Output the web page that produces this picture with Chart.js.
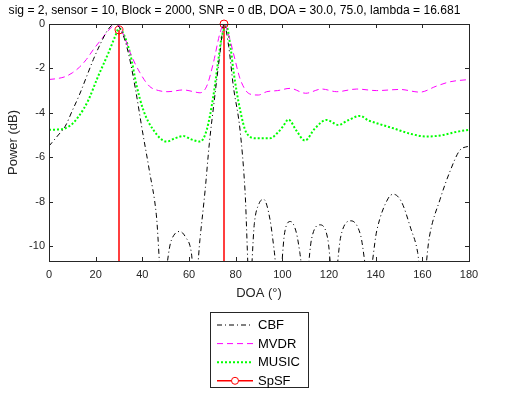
<!DOCTYPE html>
<html>
<head>
<meta charset="UTF-8">
<title>DOA spectrum</title>
<script src="https://cdn.jsdelivr.net/npm/chart.js@4.4.1/dist/chart.umd.min.js"></script>
<style>
  html, body { margin: 0; padding: 0; background: #fff; }
  #wrap { width: 512px; height: 396px; }
</style>
</head>
<body>
<div id="wrap"><canvas id="chart" width="512" height="396"></canvas></div>
<script>
// 目盛り
const xTicks = [0, 20, 40, 60, 80, 100, 120, 140, 160, 180];
const yTicks = [-10, -8, -6, -4, -2, 0];

// CBF
const cbfDeg = [0, 4, 7, 10, 13, 16, 19, 22, 25, 28, 31, 34, 37, 40, 43, 46, 48.5,
  52, 54, 56, 58.5, 61, 62.6, 64.7, 66.9, 68.7, 71, 73.3, 75, 77, 79, 81.9, 84, 86,
  88, 90, 92, 94.7, 96.5, 98.5, 101, 103.5, 106, 107.5, 109.7, 112.5, 116, 119.5, 122,
  125, 129.5, 133.5, 137, 140.5, 145.4, 147.6, 151, 155, 158, 160, 163, 167.6, 172, 176, 180];
const cbfPow = [-5.5, -5.0, -4.6, -3.9, -3.2, -2.4, -1.6, -0.9, -0.3, 0, -0.3, -1.3, -2.9, -4.8, -6.6, -8.6, -12,
  -9.9, -9.45, -9.35, -9.6, -10.3, -12, -9.7, -7.5, -5.4, -3.3, -1.3, 0, -1.0, -2.8, -4.8, -7.5, -12,
  -9.0, -8.1, -7.9, -8.8, -10.2, -12, -9.4, -8.9, -9.4, -10.3, -12, -9.7, -9.05, -9.7, -12,
  -9.6, -8.87, -9.5, -11.5, -9.3, -7.85, -7.67, -8.0, -9.2, -10.3, -12, -9.6, -7.9, -6.6, -5.7, -5.5];

// MVDR
const mvdrDeg = [0, 4, 7, 10, 13, 16, 19, 22, 25, 27.5, 29, 32, 35, 39, 43, 47, 51, 57.6, 62, 64.7,
  67.6, 70.4, 73.3, 75, 77, 79, 82, 86, 89.7, 93.3, 98, 103.3, 110, 116.9, 123.3, 131.9,
  140.4, 150.4, 159, 166, 172, 180];
const mvdrPow = [-2.5, -2.45, -2.37, -2.2, -1.95, -1.6, -1.15, -0.75, -0.35, -0.08, 0, -0.5, -1.35, -2.2, -2.8, -3.0, -3.05, -2.97, -3.05, -3.1,
  -2.8, -1.77, -0.4, 0, -0.5, -1.3, -2.5, -3.15, -3.2, -3.05, -3.0, -2.9, -3.12, -2.93, -3.05, -2.93,
  -3.0, -2.95, -3.07, -2.8, -2.6, -2.5];

// MUSIC
const musicDeg = [0, 4, 7, 10, 12.6, 15, 17, 21, 25.4, 28.3, 30, 31.5, 34.7, 37.6, 40.4, 44.7, 50.4,
  54, 57.6, 61, 64.7, 67.6, 70.4, 72.6, 74, 76, 78, 79, 81.9, 84.7, 89, 94.7, 98, 100.4, 102.6,
  106, 109.7, 114, 119, 124, 128, 133.3, 137, 140.4, 147.6, 155, 161.9, 169, 175, 180];
const musicPow = [-4.77, -4.75, -4.7, -4.5, -4.18, -3.8, -3.4, -2.37, -1.32, -0.57, -0.2, -0.35, -1.3, -2.8, -3.87, -4.77, -5.3,
  -5.15, -5.05, -5.2, -5.3, -4.77, -3.27, -1.6, -0.6, -0.1, -1.2, -2.07, -3.87, -4.92, -5.15, -5.15, -4.9, -4.6, -4.3,
  -4.8, -5.25, -4.7, -4.32, -4.55, -4.35, -4.14, -4.35, -4.47, -4.7, -4.95, -5.07, -5.0, -4.85, -4.77];

// SpSF（ステム）
const spsfDeg = [30, 75];
const spsfPow = [-0.27, 0];

const yMin = -10.68;
const yMax = 0;
const FONT = "'Liberation Sans', Arial, sans-serif";

function toPoints(xs, ys) {
  return xs.map((x, i) => ({ x: x, y: ys[i] }));
}

// ステムは下端から値まで縦線
function stemPoints(xs, ys) {
  const pts = [];
  xs.forEach((x, i) => {
    pts.push({ x: x, y: yMin - 1 });
    pts.push({ x: x, y: ys[i] });
    pts.push({ x: x, y: null });
  });
  return pts;
}

// 枠と内向きの目盛り
const boxPlugin = {
  id: "box",
  afterDatasetsDraw(chart) {
    const { ctx, chartArea: a, scales } = chart;
    ctx.save();
    ctx.strokeStyle = "#262626";
    ctx.lineWidth = 1;
    ctx.beginPath();
    xTicks.forEach((v) => {
      const px = Math.round(scales.x.getPixelForValue(v)) + 0.5;
      ctx.moveTo(px, a.bottom);
      ctx.lineTo(px, a.bottom - 4);
      ctx.moveTo(px, a.top);
      ctx.lineTo(px, a.top + 4);
    });
    yTicks.forEach((v) => {
      const py = Math.round(scales.y.getPixelForValue(v)) + 0.5;
      ctx.moveTo(a.left, py);
      ctx.lineTo(a.left + 4, py);
      ctx.moveTo(a.right, py);
      ctx.lineTo(a.right - 4, py);
    });
    ctx.stroke();
    ctx.strokeRect(Math.round(a.left) + 0.5, Math.round(a.top) + 0.5,
      Math.round(a.right - a.left), Math.round(a.bottom - a.top));
    ctx.restore();
  },
};

// 凡例（MATLAB風の枠付き）
const legendPlugin = {
  id: "matlabLegend",
  afterDraw(chart) {
    const ctx = chart.ctx;
    const bx = 210.5, by = 312.5, bw = 98, bh = 75;
    ctx.save();
    ctx.fillStyle = "#fff";
    ctx.fillRect(bx, by, bw, bh);
    ctx.strokeStyle = "#262626";
    ctx.lineWidth = 1;
    ctx.strokeRect(bx, by, bw, bh);
    ctx.font = "13px " + FONT;
    ctx.textBaseline = "middle";
    chart.data.datasets.forEach((ds, i) => {
      const y = 325 + i * 18.6;
      ctx.save();
      ctx.strokeStyle = ds.borderColor;
      ctx.lineWidth = ds.borderWidth;
      ctx.setLineDash(ds.borderDash || []);
      ctx.beginPath();
      ctx.moveTo(217, y);
      ctx.lineTo(253, y);
      ctx.stroke();
      if (ds.label === "SpSF") {
        ctx.setLineDash([]);
        ctx.lineWidth = 1;
        ctx.beginPath();
        ctx.arc(235, y, 3.5, 0, Math.PI * 2);
        ctx.fillStyle = "#fff";
        ctx.fill();
        ctx.stroke();
      }
      ctx.restore();
      ctx.fillStyle = "#000";
      ctx.fillText(ds.label, 258, y + 0.5);
    });
    ctx.restore();
  },
};

const ctx = document.getElementById("chart").getContext("2d");
new Chart(ctx, {
  type: "line",
  data: {
    datasets: [
      {
        label: "CBF",
        data: toPoints(cbfDeg, cbfPow),
        borderColor: "#000000",
        borderWidth: 1,
        borderDash: [5, 3, 1, 3],
        pointRadius: 0,
        cubicInterpolationMode: "monotone",
        clip: 0,
      },
      {
        label: "MVDR",
        data: toPoints(mvdrDeg, mvdrPow),
        borderColor: "#ff00ff",
        borderWidth: 1,
        borderDash: [6, 4],
        pointRadius: 0,
        cubicInterpolationMode: "monotone",
        clip: 0,
      },
      {
        label: "MUSIC",
        data: toPoints(musicDeg, musicPow),
        borderColor: "#00ff00",
        borderWidth: 2,
        borderDash: [2, 2],
        pointRadius: 0,
        cubicInterpolationMode: "monotone",
        clip: 0,
      },
      {
        label: "SpSF",
        data: stemPoints(spsfDeg, spsfPow),
        borderColor: "#ff0000",
        borderWidth: 1.5,
        tension: 0,
        pointRadius: (c) => (c.dataIndex % 3 === 1 ? 4 : 0),
        pointBorderWidth: 1,
        pointBorderColor: "#ff0000",
        pointBackgroundColor: "rgba(0,0,0,0)",
        spanGaps: false,
        clip: { left: 0, right: 0, top: 10, bottom: 0 },
      },
    ],
  },
  options: {
    responsive: false,
    animation: false,
    layout: { padding: { left: 0, right: 43, top: 0, bottom: 90 } },
    plugins: {
      legend: { display: false },
      tooltip: { enabled: false },
      title: {
        display: true,
        text: "sig = 2, sensor = 10, Block = 2000, SNR = 0 dB, DOA = 30.0, 75.0, lambda = 16.681",
        color: "#000",
        font: { family: FONT, size: 12.1, weight: "normal" },
        padding: { top: 3, bottom: 6.5 },
      },
    },
    scales: {
      x: {
        type: "linear",
        min: 0,
        max: 180,
        afterBuildTicks: (s) => { s.ticks = xTicks.map((v) => ({ value: v })); },
        afterFit: (s) => { s.height = 45; },
        grid: { display: false, drawTicks: false },
        border: { display: false },
        ticks: {
          color: "#262626",
          padding: 7,
          maxRotation: 0,
          font: { family: FONT, size: 11 },
        },
        title: {
          display: true,
          text: "DOA (°)",
          color: "#262626",
          font: { family: FONT, size: 13 },
          padding: { top: 0, bottom: 5 },
        },
      },
      y: {
        type: "linear",
        min: yMin,
        max: yMax,
        afterBuildTicks: (s) => { s.ticks = yTicks.map((v) => ({ value: v })); },
        afterFit: (s) => { s.width = 49; },
        grid: { display: false, drawTicks: false },
        border: { display: false },
        ticks: {
          color: "#262626",
          padding: 4,
          font: { family: FONT, size: 11 },
        },
        title: {
          display: true,
          text: "Power (dB)",
          color: "#262626",
          font: { family: FONT, size: 13 },
          padding: { top: 6, bottom: 6 },
        },
      },
    },
  },
  plugins: [boxPlugin, legendPlugin],
});
</script>
</body>
</html>
